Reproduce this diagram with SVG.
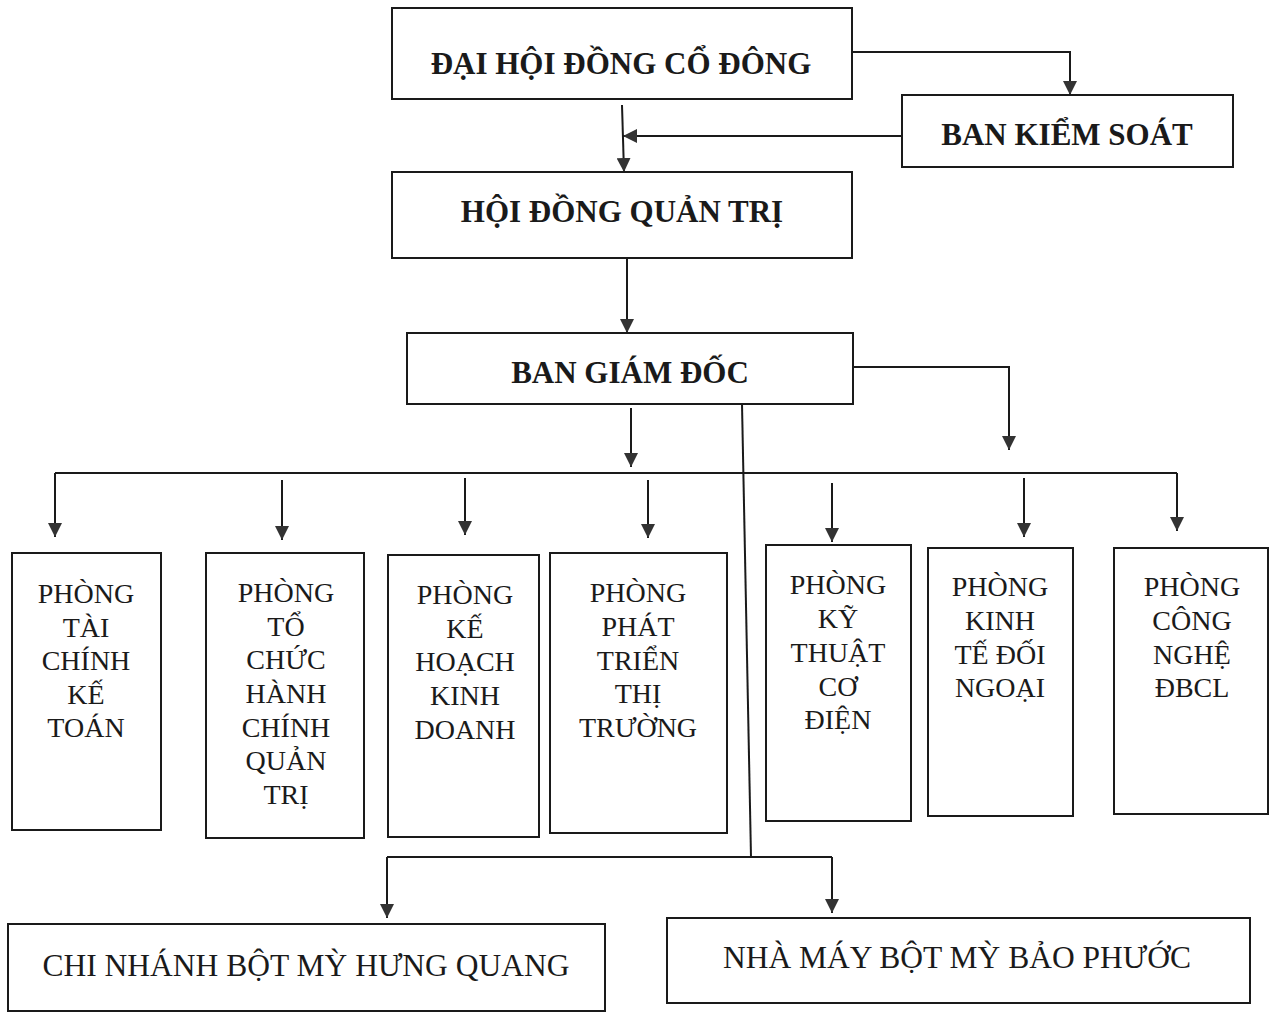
<svg xmlns="http://www.w3.org/2000/svg" width="1273" height="1012" viewBox="0 0 1273 1012">
<defs>
<marker id="ah" markerUnits="userSpaceOnUse" markerWidth="14" markerHeight="14" refX="14" refY="7" orient="auto">
<path d="M0,0 L14,7 L0,14 z" fill="#333"/>
</marker>
<style>
.box{fill:#fff;stroke:#1a1a1a;stroke-width:2}
.hd{font-family:"Liberation Serif","Times New Roman",serif;font-weight:bold;font-size:31px;fill:#1a1a1a;text-anchor:middle}
.dp{font-family:"Liberation Serif","Times New Roman",serif;font-size:28px;fill:#1a1a1a;text-anchor:middle}
.bt{font-family:"Liberation Serif","Times New Roman",serif;font-size:31.5px;fill:#1a1a1a;text-anchor:middle}
.ln{fill:none;stroke:#1a1a1a;stroke-width:2}
.ar{fill:none;stroke:#1a1a1a;stroke-width:2;marker-end:url(#ah)}
</style>
</defs>
<rect width="1273" height="1012" fill="#fff"/>
<g id="connectors">
<path class="ar" d="M852,52 H1070 V95"/>
<path class="ar" d="M902,136 H623"/>
<path class="ar" d="M622,105 L624,172"/>
<path class="ar" d="M627,259 V333"/>
<path class="ar" d="M853,367 H1009 V450"/>
<path class="ar" d="M631,408 V467"/>
<path class="ln" d="M55,473 H1177"/>
<path class="ar" d="M55,473 V537"/>
<path class="ar" d="M282,480 V540"/>
<path class="ar" d="M465,478 V535"/>
<path class="ar" d="M648,480 V538"/>
<path class="ar" d="M832,483 V542"/>
<path class="ar" d="M1024,478 V537"/>
<path class="ar" d="M1177,473 V531"/>
<path class="ln" d="M742,404 L751,857"/>
<path class="ln" d="M387,857 H832"/>
<path class="ar" d="M387,857 V918"/>
<path class="ar" d="M832,857 V913"/>
</g>
<g id="n-dhdcd">
<rect class="box" x="392" y="8" width="460" height="91"/>
<text class="hd" x="621" y="74">ĐẠI HỘI ĐỒNG CỔ ĐÔNG</text>
</g>
<g id="n-bks">
<rect class="box" x="902" y="95" width="331" height="72"/>
<text class="hd" x="1067" y="145">BAN KIỂM SOÁT</text>
</g>
<g id="n-hdqt">
<rect class="box" x="392" y="172" width="460" height="86"/>
<text class="hd" x="622" y="222">HỘI ĐỒNG QUẢN TRỊ</text>
</g>
<g id="n-bgd">
<rect class="box" x="407" y="333" width="446" height="71"/>
<text class="hd" x="630" y="383">BAN GIÁM ĐỐC</text>
</g>
<g id="n-p1">
<rect class="box" x="12" y="553" width="149" height="277"/>
<text class="dp" x="86"><tspan x="86" y="603">PHÒNG</tspan><tspan x="86" y="637">TÀI</tspan><tspan x="86" y="670">CHÍNH</tspan><tspan x="86" y="704">KẾ</tspan><tspan x="86" y="737">TOÁN</tspan></text>
</g>
<g id="n-p2">
<rect class="box" x="206" y="553" width="158" height="285"/>
<text class="dp" x="286"><tspan x="286" y="602">PHÒNG</tspan><tspan x="286" y="636">TỔ</tspan><tspan x="286" y="669">CHỨC</tspan><tspan x="286" y="703">HÀNH</tspan><tspan x="286" y="737">CHÍNH</tspan><tspan x="286" y="770">QUẢN</tspan><tspan x="286" y="804">TRỊ</tspan></text>
</g>
<g id="n-p3">
<rect class="box" x="388" y="555" width="151" height="282"/>
<text class="dp" x="465"><tspan x="465" y="604">PHÒNG</tspan><tspan x="465" y="638">KẾ</tspan><tspan x="465" y="671">HOẠCH</tspan><tspan x="465" y="705">KINH</tspan><tspan x="465" y="739">DOANH</tspan></text>
</g>
<g id="n-p4">
<rect class="box" x="550" y="553" width="177" height="280"/>
<text class="dp" x="638"><tspan x="638" y="602">PHÒNG</tspan><tspan x="638" y="636">PHÁT</tspan><tspan x="638" y="670">TRIỂN</tspan><tspan x="638" y="703">THỊ</tspan><tspan x="638" y="737">TRƯỜNG</tspan></text>
</g>
<g id="n-p5">
<rect class="box" x="766" y="545" width="145" height="276"/>
<text class="dp" x="838"><tspan x="838" y="594">PHÒNG</tspan><tspan x="838" y="628">KỸ</tspan><tspan x="838" y="662">THUẬT</tspan><tspan x="838" y="696">CƠ</tspan><tspan x="838" y="729">ĐIỆN</tspan></text>
</g>
<g id="n-p6">
<rect class="box" x="928" y="548" width="145" height="268"/>
<text class="dp" x="1000"><tspan x="1000" y="596">PHÒNG</tspan><tspan x="1000" y="630">KINH</tspan><tspan x="1000" y="664">TẾ ĐỐI</tspan><tspan x="1000" y="697">NGOẠI</tspan></text>
</g>
<g id="n-p7">
<rect class="box" x="1114" y="548" width="154" height="266"/>
<text class="dp" x="1192"><tspan x="1192" y="596">PHÒNG</tspan><tspan x="1192" y="630">CÔNG</tspan><tspan x="1192" y="664">NGHỆ</tspan><tspan x="1192" y="697">ĐBCL</tspan></text>
</g>
<g id="n-cn">
<rect class="box" x="8" y="924" width="597" height="87"/>
<text class="bt" x="306" y="976">CHI NHÁNH BỘT MỲ HƯNG QUANG</text>
</g>
<g id="n-nm">
<rect class="box" x="667" y="918" width="583" height="85"/>
<text class="bt" x="957" y="968">NHÀ MÁY BỘT MỲ BẢO PHƯỚC</text>
</g>
</svg>
